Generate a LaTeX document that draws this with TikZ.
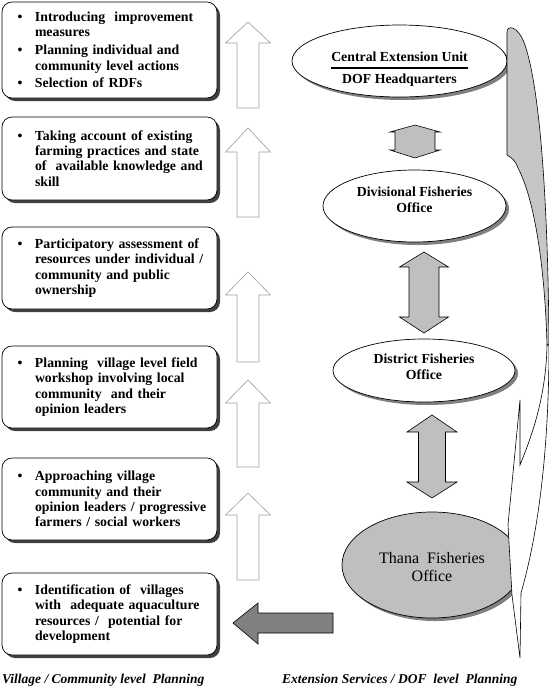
\documentclass[tikz,border=0pt]{standalone}
\usepackage{fontspec}
\setmainfont{Liberation Serif}
\usetikzlibrary{shapes.geometric,shadows}

\tikzstyle{stage}=[draw, rounded corners=10pt, fill=white, line width=0.7pt,
  minimum width=215pt, text width=207pt, inner xsep=4pt, align=left,
  drop shadow={shadow xshift=3pt, shadow yshift=-3pt, fill=black!75, opacity=1},
  font=\fontsize{13.8}{15.3}\selectfont\bfseries]
\tikzstyle{office}=[ellipse, draw, fill=white, line width=0.7pt, inner sep=0pt, align=center,
  drop shadow={shadow xshift=3pt, shadow yshift=-3pt, fill=gray, opacity=1},
  font=\fontsize{13.8}{16}\selectfont\bfseries]
\tikzstyle{uparrow}=[draw=gray!75, fill=white, line width=0.6pt]
\tikzstyle{twoway}=[draw, fill=gray!50, line width=0.6pt]
\tikzstyle{caption}=[anchor=west, inner sep=0pt, font=\fontsize{13.5}{16}\selectfont\bfseries\itshape]

\newcommand{\bul}{\leftskip=29pt\relax\leavevmode\llap{\textbullet\hspace{12.5pt}}}
\newcommand{\nxt}{\par\vspace{2.5pt}}
\newcommand{\txtshift}[2]{\raisebox{0pt}[\dimexpr\height+#1\relax][\dimexpr\depth-#1\relax]{#2}}

\begin{document}
\begin{tikzpicture}[x=1pt, y=-1pt]
\useasboundingbox (0,0) rectangle (549,697);
%Village / community level steps
\node[stage, minimum height=96pt] (improve) at (109.5,50)
  {\bul Introducing~~improvement\\ measures\nxt\bul Planning individual and\\ community level actions\nxt\bul Selection of RDFs\par};
\node[stage, minimum height=83pt] (practice) at (109.5,158.5)
  {\bul Taking account of existing\\ farming practices and state\\ of~~available knowledge and\\ skill\par};
\node[stage, minimum height=82pt] (assess) at (109.5,268)
  {\bul Participatory assessment of\\ resources under individual /\\ community and public\\ ownership\par};
\node[stage, minimum height=82pt] (workshop) at (109.5,387)
  {\bul Planning~~village level field\\ workshop involving local\\ community~~and their\\ opinion leaders\par};
\node[stage, minimum height=82pt] (approach) at (109.5,499)
  {\bul Approaching village\\ community and their\\ opinion leaders / progressive\\ farmers / social workers\par};
\node[stage, minimum height=82pt] (identify) at (109.5,614)
  {\bul Identification of~~villages\\ with~~adequate aquaculture\\ resources /~~potential for\\ development\par};
%Upward arrows between the steps
\foreach \ytip/\yhead/\ytail in {22/43/108, 128/152/217, 272/295/362, 380/403/467, 493/515/580}
  \draw[uparrow] (248,\ytip) -- (270.5,\yhead) -- (259,\yhead) -- (259,\ytail)
    -- (237,\ytail) -- (237,\yhead) -- (225.5,\yhead) -- cycle;
%Two way arrows between the offices
\foreach \cx/\ytip/\yhead/\ytail/\ybot/\hw/\sw in {415/125/132/150/158/25/20, 424/252/267/317/333/24.5/15, 432/415/432/482/498/25/13.5}
  \draw[twoway] (\cx,\ytip) -- (\cx+\hw,\yhead) -- (\cx+\sw,\yhead) -- (\cx+\sw,\ytail)
    -- (\cx+\hw,\ytail) -- (\cx,\ybot) -- (\cx-\hw,\ytail) -- (\cx-\sw,\ytail)
    -- (\cx-\sw,\yhead) -- (\cx-\hw,\yhead) -- cycle;
%Arrow from thana office to the villages
\draw[fill=gray, line width=0.6pt] (233,623) -- (258,603) -- (258,613) -- (333,613)
  -- (333,633) -- (258,633) -- (258,644) -- cycle;
%DOF offices
\node[office, minimum width=215pt, minimum height=72pt] (central) at (399.5,61)
  {\txtshift{7pt}{\arrayrulewidth=1.5pt\renewcommand{\arraystretch}{1.3}\begin{tabular}{@{}c@{}}Central Extension Unit\\\hline DOF Headquarters\end{tabular}}};
\node[office, minimum width=183pt, minimum height=72pt] (division) at (414.5,206)
  {\txtshift{-5pt}{\begin{tabular}{@{}c@{}}Divisional Fisheries\\Office\end{tabular}}};
\node[office, minimum width=182pt, minimum height=63pt] (district) at (424,370.5)
  {\txtshift{-2pt}{\begin{tabular}{@{}c@{}}District Fisheries\\Office\end{tabular}}};
\node[office, fill=gray!50, minimum width=180pt, minimum height=106pt,
  font=\fontsize{16}{18}\selectfont] (thana) at (432,565)
  {\txtshift{4pt}{\begin{tabular}{@{}c@{}}Thana~~Fisheries\\Office\end{tabular}}};
%Curved band on the right
\draw[fill=gray!45, line width=0.6pt] (507,155) -- (507,32)
  .. controls (507,25) and (518,25) .. (525,45)
  .. controls (540,90) and (548,200) .. (549,345) -- (547,345)
  .. controls (545,270) and (535,200) .. (518,168)
  .. controls (515,160) and (512,158) .. (507,155) -- cycle;
\draw[fill=white, line width=0.6pt] (520,400) -- (508,525) -- (512,595) -- (520,658)
  -- (521,593) .. controls (542,520) and (549,430) .. (549,345) -- (547,345)
  .. controls (546,400) and (530,440) .. (520,465) -- cycle;
%Level captions
\node[caption] (village) at (2,680) {Village / Community level~~Planning};
\node[caption] (extension) at (282,680) {Extension Services / DOF~~level~~Planning};
\end{tikzpicture}
\end{document}
